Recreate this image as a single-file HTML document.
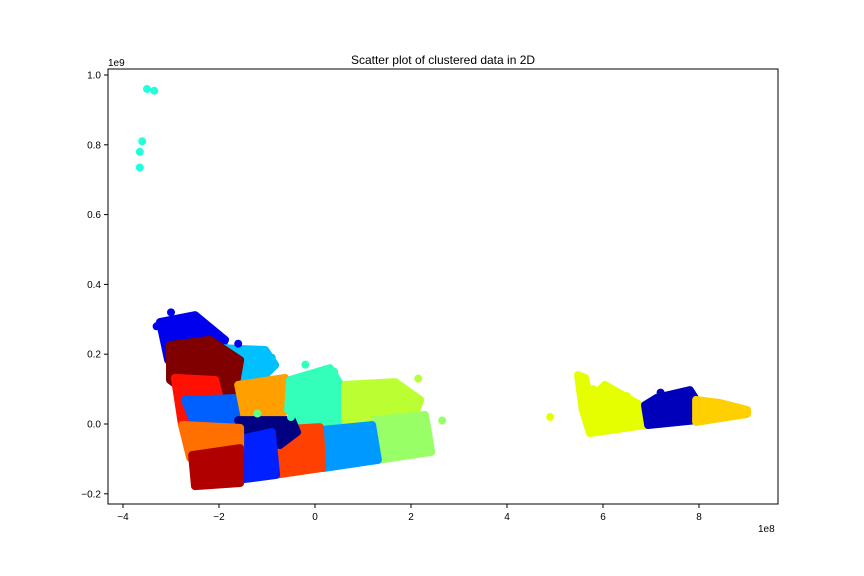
<!DOCTYPE html>
<html><head><meta charset="utf-8"><style>
body{margin:0;background:#fff}
svg{display:block;font-family:"Liberation Sans","DejaVu Sans",sans-serif}
</style></head><body>
<svg id="chart" width="864" height="576">
<rect width="864" height="576" fill="#fff"/>
<text x="443" y="64" text-anchor="middle" font-size="12">Scatter plot of clustered data in 2D</text>
<g id="clusters"></g>
<g id="points"></g>
<rect x="108" y="69" width="670" height="435" fill="none" stroke="#000" stroke-width="1"/>
<g id="xticks"></g>
<g id="yticks"></g>
<text x="108" y="66" font-size="10">1e9</text>
<text x="758" y="532" font-size="10">1e8</text>
</svg>
<script>
const clusterNames=["blue-0","deep-sky","maroon","red","med-blue","orange-2","aquamarine","yellow-green","light-green","azure","orange-red","dark-navy","blue-1","orange","dark-red","yellow","navy-2","gold"];
const clusterColors=["#0000ee","#00c0ff","#800000","#ff1000","#0060ff","#ffa000","#33ffbb","#bbff33","#99ff66","#0099ff","#ff4000","#000080","#0020ff","#ff7000","#b00000","#e6ff00","#0000bb","#ffd000"];
const clusterHulls=[
[[-3.23,0.292],[-2.5,0.312],[-1.875,0.241],[-2.08,0.183],[-3.06,0.183]],
[[-2.08,0.218],[-1.04,0.212],[-0.83,0.169],[-1.25,0.112],[-1.94,0.126]],
[[-3.02,0.226],[-2.19,0.241],[-1.56,0.183],[-1.67,0.097],[-2.6,0.083],[-3.02,0.126]],
[[-2.92,0.132],[-2.08,0.126],[-1.875,0.011],[-2.77,-0.003]],
[[-2.71,0.069],[-1.56,0.075],[-1.46,0.017],[-2.5,-0.003]],
[[-1.6,0.112],[-0.625,0.132],[-0.48,0.069],[-0.73,0.017],[-1.46,0.017]],
[[-0.52,0.126],[0.31,0.16],[0.625,0.092],[0.52,-0.011],[-0.21,-0.003],[-0.56,0.04]],
[[0.625,0.112],[1.67,0.12],[2.19,0.069],[2.08,0.026],[0.625,0.011]],
[[1.25,0.011],[2.29,0.026],[2.42,-0.08],[1.31,-0.103]],
[[0.15,-0.017],[1.19,-0.003],[1.31,-0.103],[0.19,-0.126]],
[[-0.9,-0.017],[0.1,-0.009],[0.15,-0.126],[-0.85,-0.146]],
[[-1.6,0.011],[-0.48,0.011],[-0.375,-0.023],[-0.73,-0.06],[-1.46,-0.052]],
[[-1.65,-0.046],[-0.9,-0.023],[-0.81,-0.146],[-1.6,-0.16]],
[[-2.77,-0.003],[-1.56,-0.011],[-1.56,-0.074],[-2.6,-0.097]],
[[-2.56,-0.089],[-1.56,-0.069],[-1.56,-0.169],[-2.5,-0.178]],
[[5.48,0.14],[5.625,0.132],[5.73,0.069],[6.04,0.112],[6.77,0.054],[6.875,-0.003],[5.73,-0.026],[5.58,0.04]],
[[6.875,0.054],[7.125,0.075],[7.81,0.097],[7.94,0.069],[7.94,0.011],[6.94,-0.003]],
[[7.94,0.069],[8.44,0.06],[9.0,0.04],[9.0,0.029],[7.94,0.006]]
];
const outlierX=[-3.5,-3.35,-3.6,-3.65,-3.65,4.9,2.65,2.15,-3.0,-2.9,-3.3,-2.4,-1.6,-0.2,0.4,0.9,1.4,-0.9,-1.0,-2.1,-2.5,-1.2,-0.5,5.8,6.3,6.5,7.2];
const outlierY=[0.96,0.955,0.81,0.78,0.735,0.02,0.01,0.13,0.32,0.30,0.28,0.30,0.23,0.17,0.15,0.11,0.10,0.19,0.18,0.05,0.04,0.03,0.02,0.10,0.09,0.08,0.09];
const outlierColors=["#22ffdd","#22ffdd","#22ffdd","#22ffdd","#22ffdd","#e6ff00","#99ff66","#bbff33","#0000ee","#0000ee","#0000ee","#0000ee","#0000ee","#33ffbb","#33ffbb","#bbff33","#bbff33","#00c0ff","#00c0ff","#0060ff","#0060ff","#66ff88","#33ffbb","#e6ff00","#e6ff00","#e6ff00","#0000bb"];
const xTicks=[-4,-2,0,2,4,6,8];
const yTicks=[-0.2,0.0,0.2,0.4,0.6,0.8,1.0];

const NS="http://www.w3.org/2000/svg";
function sx(v){return 315+v*48;}
function sy(v){return 424-v*349;}

const cg=document.getElementById('clusters');
clusterHulls.forEach((h,i)=>{
  const p=document.createElementNS(NS,'polygon');
  p.setAttribute('points',h.map(q=>sx(q[0])+','+sy(q[1])).join(' '));
  p.setAttribute('fill',clusterColors[i]);
  p.setAttribute('stroke',clusterColors[i]);
  p.setAttribute('stroke-width','8');
  p.setAttribute('stroke-linejoin','round');
  
  
  cg.appendChild(p);
});
const pg=document.getElementById('points');
outlierX.forEach((x,i)=>{
  const c=document.createElementNS(NS,'circle');
  c.setAttribute('cx',sx(x));c.setAttribute('cy',sy(outlierY[i]));c.setAttribute('r',4);
  c.setAttribute('fill',outlierColors[i]);
  
  
  pg.appendChild(c);
});
const xg=document.getElementById('xticks');
xTicks.forEach(t=>{
  const x=sx(t);
  const l=document.createElementNS(NS,'line');
  l.setAttribute('x1',x);l.setAttribute('x2',x);l.setAttribute('y1',504);l.setAttribute('y2',508);l.setAttribute('stroke','#000');
  
  
  xg.appendChild(l);
  const s=document.createElementNS(NS,'text');
  s.setAttribute('x',x);s.setAttribute('y',520);s.setAttribute('text-anchor','middle');s.setAttribute('font-size','10');
  s.textContent=t<0?'\u2212'+(-t):String(t);
  
  
  xg.appendChild(s);
});
const yg=document.getElementById('yticks');
yTicks.forEach(t=>{
  const y=sy(t);
  const l=document.createElementNS(NS,'line');
  l.setAttribute('x1',104);l.setAttribute('x2',108);l.setAttribute('y1',y);l.setAttribute('y2',y);l.setAttribute('stroke','#000');
  
  
  yg.appendChild(l);
  const s=document.createElementNS(NS,'text');
  s.setAttribute('x',101);s.setAttribute('y',y+3.5);s.setAttribute('text-anchor','end');s.setAttribute('font-size','10');
  s.textContent=(t<0?'\u2212':'')+Math.abs(t).toFixed(1);
  
  
  yg.appendChild(s);
});
</script>
</body></html>
